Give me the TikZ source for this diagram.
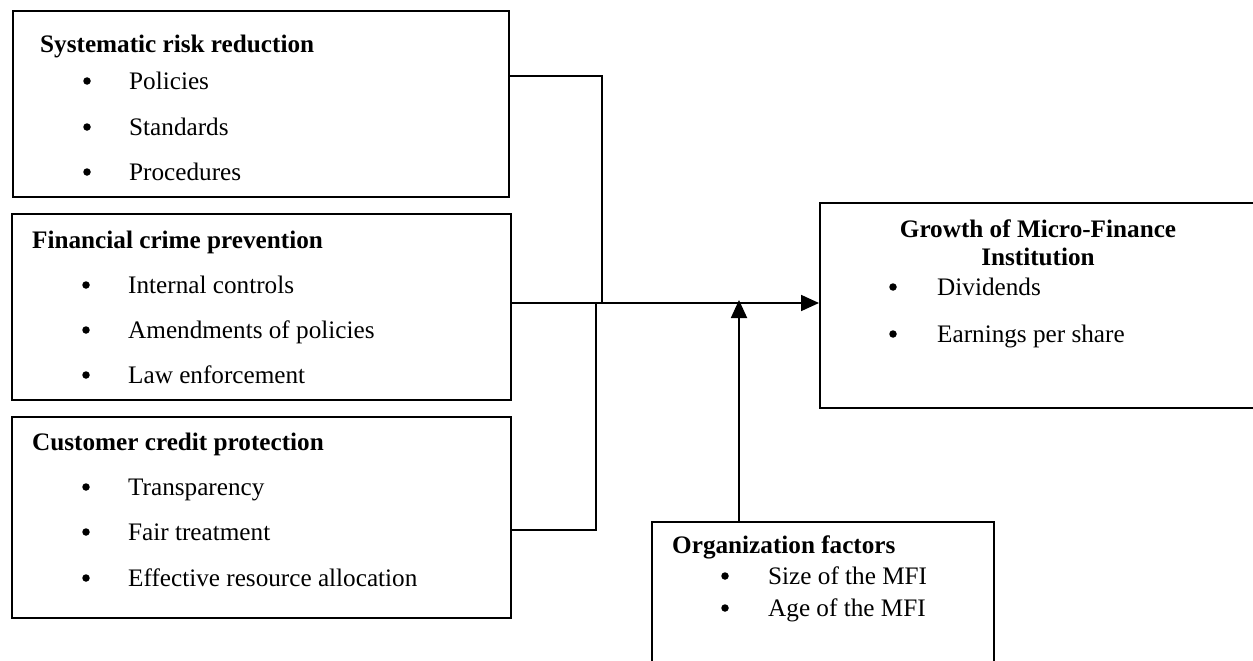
\documentclass[tikz,border=0pt]{standalone}
\usepackage{fontspec}
\setmainfont{Liberation Serif}
\usetikzlibrary{arrows.meta}
\begin{document}
\begin{tikzpicture}[x=1pt,y=-1pt,
  box/.style={draw,line width=1.8pt,inner sep=0pt,anchor=north west},
  txt/.style={anchor=base west,inner sep=0pt,font=\fontsize{25.2}{30}\selectfont},
  ttl/.style={anchor=base west,inner sep=0pt,font=\fontsize{25.2}{30}\selectfont\bfseries},
  bul/.style={circle,fill,inner sep=0pt,minimum size=7.5pt,yshift=8pt},
  conn/.style={line width=1.8pt},
  arr/.style={conn,-{Triangle[length=18pt,width=16pt]}}]
\clip (0,0) rectangle (1253,661);
\fill[white] (0,0) rectangle (1253,661);
% boxes
\node[box,minimum width=496pt,minimum height=186pt] (b1) at (12,10) {};
\node[box,minimum width=499pt,minimum height=186pt] (b2) at (11,213) {};
\node[box,minimum width=499pt,minimum height=201pt] (b3) at (11,416) {};
\node[box,minimum width=445pt,minimum height=205pt] (g) at (819,202) {};
\node[box,minimum width=342pt,minimum height=160pt] (o) at (651,521) {};
% box 1
\node[ttl] (t1) at (40,53) {Systematic risk reduction};
\node[bul] (p1) at (87,89) {};  \node[txt] (q1) at (129,89) {Policies};
\node[bul] (p2) at (87,135) {}; \node[txt] (q2) at (129,135) {Standards};
\node[bul] (p3) at (87,180) {}; \node[txt] (q3) at (129,180) {Procedures};
% box 2
\node[ttl] (t2) at (32,248) {Financial crime prevention};
\node[bul] (r1) at (86,293) {}; \node[txt] (s1) at (128,293) {Internal controls};
\node[bul] (r2) at (86,338) {}; \node[txt] (s2) at (128,338) {Amendments of policies};
\node[bul] (r3) at (86,383) {}; \node[txt] (s3) at (128,383) {Law enforcement};
% box 3
\node[ttl] (t3) at (32,450) {Customer credit protection};
\node[bul] (u1) at (86,495) {}; \node[txt] (v1) at (128,495) {Transparency};
\node[bul] (u2) at (86,540) {}; \node[txt] (v2) at (128,540) {Fair treatment};
\node[bul] (u3) at (86,586) {}; \node[txt] (v3) at (128,586) {Effective resource allocation};
% growth box
\node[ttl,anchor=base] (gt1) at (1038,237) {Growth of Micro-Finance};
\node[ttl,anchor=base] (gt2) at (1038,265) {Institution};
\node[bul] (w1) at (893,295) {}; \node[txt] (x1) at (937,295) {Dividends};
\node[bul] (w2) at (893,342) {}; \node[txt] (x2) at (937,342) {Earnings per share};
% organization box
\node[ttl] (ot) at (672,553) {Organization factors};
\node[bul] (y1) at (725,584) {}; \node[txt] (z1) at (768,584) {Size of the MFI};
\node[bul] (y2) at (725,616) {}; \node[txt] (z2) at (768,616) {Age of the MFI};
% connectors
\coordinate (c1) at (b1.north east |- 0,76);
\coordinate (c2) at (b2.north east |- 0,303);
\coordinate (c3) at (b3.north east |- 0,530);
\coordinate (j1) at (602,303);
\coordinate (j3) at (596,303);
\coordinate (oa) at (739,300);
\draw[conn] (c1) -| (j1);
\draw[conn] (c3) -| (j3);
\draw[arr] (c2) -- (g.west |- c2);
\draw[arr] (o.north -| oa) -- (oa);
\end{tikzpicture}
\end{document}
